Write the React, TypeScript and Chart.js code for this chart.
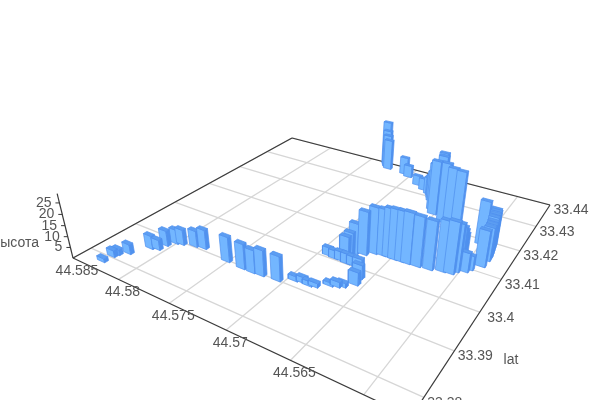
import React, { useEffect, useRef } from "react";
import { Chart, registerables } from "chart.js";

Chart.register(...registerables);

const lons = [
  44.58291, 44.58283, 44.58273, 44.58214, 44.58127, 44.58072, 44.58062, 44.58018, 44.57969, 44.57863,
  44.57785, 44.57518, 44.57365, 44.57271, 44.57193, 44.57059, 44.56957, 44.56895, 44.56839, 44.56797,
  44.56715, 44.56667, 44.56632, 44.56928, 44.56867, 44.56815, 44.56756, 44.56705, 44.56655, 44.56572,
  44.56585, 44.56812, 44.568, 44.56775, 44.5671, 44.56653, 44.56582, 44.56486, 44.5638, 44.563,
  44.56209, 44.56118, 44.56058, 44.56037, 44.56033, 44.56041, 44.56054, 44.55981, 44.5596,
  44.56254, 44.56328, 44.56402, 44.56485, 44.56535, 44.56522, 44.56574, 44.56675, 44.5656, 44.56629,
  44.57076, 44.57014, 44.56867, 44.56777, 44.56705, 44.57331, 44.5731, 44.5729, 44.57263,
  44.55899, 44.55895, 44.55898, 44.55905, 44.55913, 44.55921, 44.55929, 44.55944, 44.56007,
  44.56535, 44.5643, 44.566, 44.5655, 44.5665,
];
const lats = [
  33.37865, 33.38059, 33.38147, 33.38271, 33.38589, 33.38633, 33.38801, 33.38945, 33.38979, 33.39055,
  33.39093, 33.39003, 33.3898, 33.3898, 33.38994, 33.39024, 33.39173, 33.39199, 33.39184, 33.39214,
  33.39366, 33.39405, 33.39457, 33.4009, 33.40068, 33.40072, 33.40049, 33.40053, 33.40058, 33.39607,
  33.39785, 33.40224, 33.40314, 33.40391, 33.40446, 33.4057, 33.40598, 33.40593, 33.40603, 33.40616,
  33.40643, 33.40707, 33.40727, 33.40826, 33.40937, 33.41066, 33.41228, 33.40907, 33.41008,
  33.42083, 33.42105, 33.42216, 33.42511, 33.42826, 33.4241, 33.42716, 33.43077, 33.42559, 33.42885,
  33.43723, 33.43634, 33.43388, 33.43248, 33.43136, 33.43973, 33.43903, 33.43833, 33.43763,
  33.41205, 33.41425, 33.41537, 33.41634, 33.41735, 33.41838, 33.41946, 33.42043, 33.41871,
  33.406, 33.406, 33.4285, 33.4265, 33.4298,
];
const heights = [
  1.8, 3.2, 2.8, 4.6, 6.3, 4.8, 7.3, 6.8, 7.3, 7.7,
  9.1, 11.7, 11.6, 10.6, 11.9, 11.4, 2.2, 2.6, 2.2, 2,
  1.6, 2.5, 2, 3.8, 3.8, 4.2, 4.6, 4.2, 4.2, 6.0,
  6.5, 9.5, 10.5, 14.2, 20.1, 21.5, 21.4, 23, 23.3, 22.8,
  22.2, 23, 23.4, 21.8, 19.2, 16.2, 12.3, 8.9, 6.6,
  28.2, 28.4, 28.6, 28.2, 26.3, 26.3, 19.1, 10.7, 23, 15,
  9, 6.2, 5, 6, 8.6, 23.2, 19.3, 17.5, 15.8,
  16.7, 15.5, 15.5, 15.6, 16.2, 16.2, 16.3, 15.9, 20.5,
  22.5, 23, 17, 21, 12,
];

const lonTicks = [44.585, 44.58, 44.575, 44.57, 44.565, 44.56];
const latTicks = [33.38, 33.39, 33.4, 33.41, 33.42, 33.43, 33.44];
const zTicks = [5, 10, 15, 20, 25];
const lonRange = [44.5571, 44.585];
const latRange = [33.3763, 33.44];
const zMax = 29;
const barHalfLon = 0.0004;
const barHalfLat = 0.0004;

const FRONT = "#73b6ff";
const SIDE = "#5092ee";
const TOP = "#5c9ef2";
const EDGE = "#4f8fee";
const GRID = "#d6d6d6";
const AXIS = "#3a3a3a";
const TEXT = "#555555";

type P = { x: number; y: number };

function project(lon: number, lat: number, z: number): P & { w: number } {
  const u = (lonRange[1] - lon) / (lonRange[1] - lonRange[0]);
  const v = (lat - latRange[0]) / (latRange[1] - latRange[0]);
  const k = -0.00208 * z;
  const w = -0.2871 * u + 0.4647 * v + 1 + k;
  return {
    x: (220 * u + 354.7 * v + 73 + 320 * k) / w,
    y: (39.3 * u - 55.9 * v + 258 + 1262 * k) / w,
    w,
  };
}

function line(pts: P[], color: string, width: number) {
  return {
    type: "scatter" as const,
    data: pts,
    showLine: true,
    fill: false,
    borderColor: color,
    borderWidth: width,
    pointRadius: 0,
    tension: 0,
  };
}

function poly(pts: P[], color: string) {
  return {
    type: "scatter" as const,
    data: [...pts, pts[0]],
    showLine: true,
    fill: "shape",
    backgroundColor: color,
    borderColor: EDGE,
    borderWidth: 0.7,
    pointRadius: 0,
    tension: 0,
  };
}

function buildDatasets() {
  const out: any[] = [];
  for (const t of latTicks) {
    out.push(line([project(lonRange[1], t, 0), project(lonRange[0], t, 0)], GRID, 1.3));
  }
  for (const t of lonTicks) {
    out.push(line([project(t, latRange[0], 0), project(t, latRange[1], 0)], GRID, 1.3));
  }
  const c00 = project(lonRange[1], latRange[0], 0);
  const c10 = project(lonRange[0], latRange[0], 0);
  const c11 = project(lonRange[0], latRange[1], 0);
  const c01 = project(lonRange[1], latRange[1], 0);
  out.push(line([c00, c01], AXIS, 1.2));
  out.push(line([c01, c11], AXIS, 1.2));
  out.push(line([c11, c10], AXIS, 1.2));
  out.push(line([c00, c10], AXIS, 1.2));
  out.push(line([c00, project(lonRange[1], latRange[0], zMax)], AXIS, 1.2));
  for (const t of zTicks) {
    const p = project(lonRange[1], latRange[0], t);
    out.push(line([p, { x: p.x - 4, y: p.y }], AXIS, 1));
  }

  const order = lons
    .map((_, i) => i)
    .sort((a, b) => project(lons[b], lats[b], 0).w - project(lons[a], lats[a], 0).w);
  for (const i of order) {
    const lo0 = lons[i] + barHalfLon;
    const lo1 = lons[i] - barHalfLon;
    const la0 = lats[i] - barHalfLat;
    const la1 = lats[i] + barHalfLat;
    const h = heights[i];
    out.push(poly([project(lo0, la0, 0), project(lo1, la0, 0), project(lo1, la0, h), project(lo0, la0, h)], FRONT));
    out.push(poly([project(lo1, la0, 0), project(lo1, la1, 0), project(lo1, la1, h), project(lo1, la0, h)], SIDE));
    out.push(poly([project(lo0, la0, h), project(lo1, la0, h), project(lo1, la1, h), project(lo0, la1, h)], TOP));
  }
  return out.reverse();
}

const labelPlugin = {
  id: "axisLabels",
  afterDraw(chart: any) {
    const { ctx, scales } = chart;
    const px = (p: P) => ({ x: scales.x.getPixelForValue(p.x), y: scales.y.getPixelForValue(p.y) });
    ctx.save();
    ctx.font = "14px 'Liberation Sans'";
    ctx.fillStyle = TEXT;
    ctx.textBaseline = "middle";
    ctx.textAlign = "center";
    for (const t of latTicks) {
      const p = px(project(lonRange[0], t, 0));
      ctx.fillText(String(t), p.x + 21, p.y + 5.5);
    }
    for (const t of lonTicks) {
      const p = px(project(t, latRange[0], 0));
      ctx.fillText(String(t), p.x + 4, p.y + 13);
    }
    ctx.textAlign = "right";
    for (const t of zTicks) {
      const p = px(project(lonRange[1], latRange[0], t));
      ctx.fillText(String(t), p.x - 8, p.y);
    }
    ctx.fillText("высота", 39, 243);
    ctx.textAlign = "center";
    ctx.fillText("lat", 511, 360);
    ctx.restore();
  },
};

export default function App() {
  const ref = useRef<HTMLCanvasElement>(null);
  useEffect(() => {
    document.body.style.margin = "0";
    const chart = new Chart(ref.current as HTMLCanvasElement, {
      type: "scatter",
      data: { datasets: buildDatasets() },
      options: {
        animation: false,
        responsive: false,
        events: [],
        layout: { padding: 0 },
        plugins: { legend: { display: false }, tooltip: { enabled: false } },
        scales: {
          x: { type: "linear", min: 0, max: 600, display: false },
          y: { type: "linear", min: 0, max: 400, reverse: true, display: false },
        },
      },
      plugins: [labelPlugin],
    } as any);
    return () => chart.destroy();
  }, []);
  return <canvas ref={ref} width={600} height={400} style={{ display: "block" }} />;
}
